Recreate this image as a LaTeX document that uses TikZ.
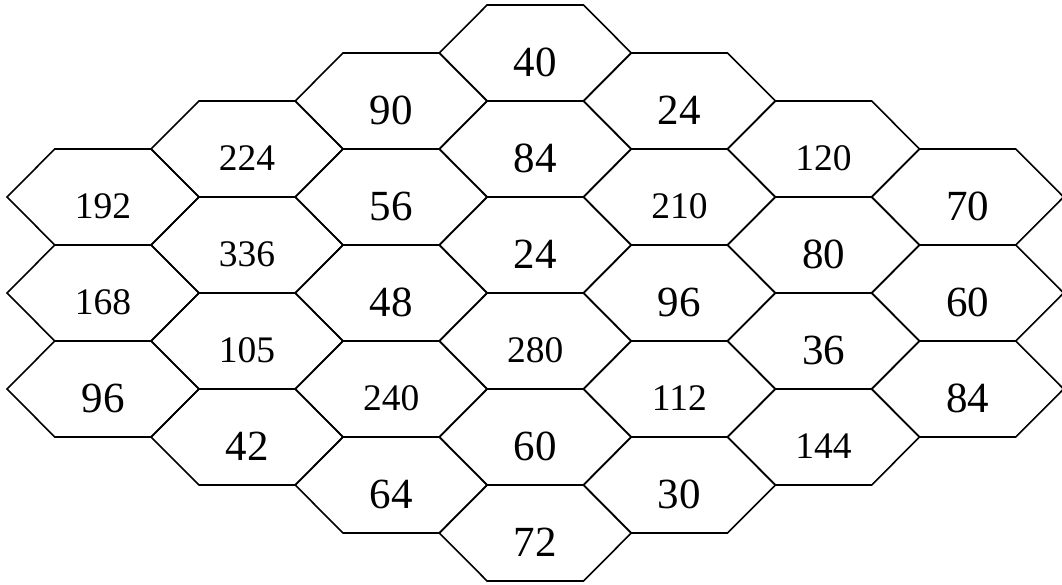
\documentclass[tikz,border=0pt]{standalone}
\usepackage{fontspec}
\setmainfont{Liberation Serif}
\begin{document}
\begin{tikzpicture}[x=1pt,y=-1pt,
  hex/.style={draw=black,line width=1.6pt,line join=miter},
  lbl/.style={inner sep=0pt,anchor=center}]
\useasboundingbox (0,0) rectangle (1062,585);
\foreach \c/\t/\vals in {0/149/{192,168,96},1/101/{224,336,105,42},2/53/{90,56,48,240,64},3/5/{40,84,24,280,60,72},4/53/{24,210,96,112,30},5/101/{120,80,36,144},6/149/{70,60,84}}{
  \foreach \v [count=\k from 0] in \vals {
    \pgfmathsetmacro\cx{103+144.1*\c}
    \pgfmathsetmacro\cy{\t+48+96*\k}
    \draw[hex] (\cx-96,\cy) -- (\cx-48.2,\cy-48) -- (\cx+48.2,\cy-48) -- (\cx+96,\cy) -- (\cx+48.2,\cy+48) -- (\cx-48.2,\cy+48) -- cycle;
    \ifnum\v>99 \def\fs{\fontsize{37.5}{37.5}\selectfont}\else\def\fs{\fontsize{43}{43}\selectfont}\fi
    \node[lbl,font=\fs] (n\c-\k) at (\cx,\cy+9) {\v};
  }
}
\end{tikzpicture}
\end{document}
